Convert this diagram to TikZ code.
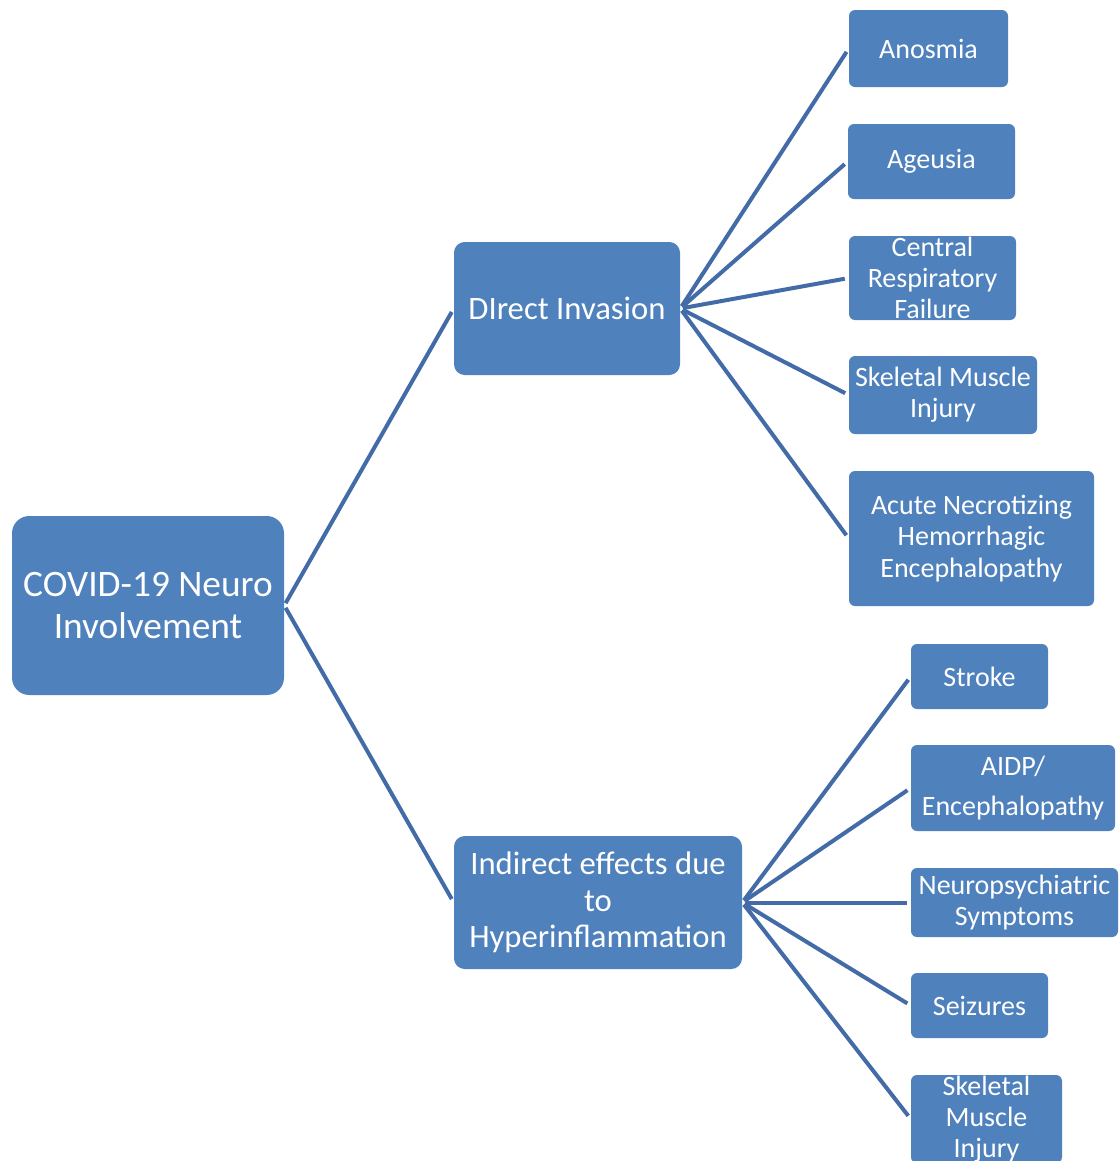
\documentclass[tikz,border=0pt]{standalone}
\usepackage{fontspec}
\setmainfont{Carlito}
\usepackage{xcolor}
\definecolor{boxblue}{RGB}{79,129,189}
\definecolor{linkblue}{RGB}{66,107,168}

\tikzset{
  box/.style = {fill=boxblue, text=white, align=center, inner sep=0pt},
  rootbox/.style = {box, rounded corners=13pt, font=\fontsize{28}{31.5}\selectfont},
  midbox/.style = {box, rounded corners=8pt, font=\fontsize{24.5}{27.5}\selectfont},
  leafbox/.style = {box, rounded corners=4.5pt, font=\fontsize{21}{23.3}\selectfont},
  link/.style = {draw=linkblue, line width=3pt, shorten <=2pt, shorten >=3pt}
}

\begin{document}
\begin{tikzpicture}[x=0.75pt, y=-0.75pt]
            \useasboundingbox (0,0) rectangle (1120,1161);
            \begin{scope}
            \clip (0,0) rectangle (1120,1161);
            % root and branches
            \node[rootbox, minimum width=204pt, minimum height=134.25pt] (covid) at (148,605.5) {COVID-19 Neuro\\Involvement};
            \node[midbox, minimum width=169.5pt, minimum height=99.75pt] (direct) at (567,308.5) {DIrect Invasion};
            \node[midbox, minimum width=216pt, minimum height=99.75pt] (indirect) at (598,902.5) {Indirect effects due\\to\\Hyperinflammation};
            % direct invasion
            \node[leafbox, minimum width=119.25pt, minimum height=57.75pt] (anosmia) at (928.5,48.5) {Anosmia};
            \node[leafbox, minimum width=125.25pt, minimum height=56.25pt] (ageusia) at (931.5,161.5) {Ageusia};
            \node[leafbox, minimum width=125.25pt, minimum height=63pt] (central) at (932.5,278) {Central\\Respiratory\\Failure};
            \node[leafbox, minimum width=141pt, minimum height=58.5pt] (skeletal) at (943,395) {Skeletal Muscle\\Injury};
            \node[leafbox, minimum width=183.75pt, minimum height=101.25pt] (anhe) at (971.5,538.5) {Acute Necrotizing\\Hemorrhagic\\Encephalopathy};
            % indirect effects
            \node[leafbox, minimum width=102.75pt, minimum height=48.75pt] (stroke) at (979.5,676.5) {Stroke};
            \node[leafbox, minimum width=153pt, minimum height=64.5pt] (aidp) at (1013,788) {AIDP/\\[7pt]Encephalopathy};
            \node[leafbox, minimum width=155.25pt, minimum height=51.75pt] (psych) at (1014.5,902.5) {Neuropsychiatric\\Symptoms};
            \node[leafbox, minimum width=102.75pt, minimum height=48.75pt] (seizures) at (979.5,1005.5) {Seizures};
            \node[leafbox, minimum width=113.25pt, minimum height=66pt] (skeletalb) at (986.5,1119) {Skeletal\\Muscle\\Injury};
            % connectors
            \foreach \child in {direct, indirect}
              \draw[link] (covid.east) -- (\child.west);
            \foreach \child in {anosmia, ageusia, central, skeletal, anhe}
              \draw[link] (direct.east) -- (\child.west);
            \foreach \child in {stroke, aidp, psych, seizures, skeletalb}
              \draw[link] (indirect.east) -- (\child.west);
            \end{scope}
        \end{tikzpicture}
\end{document}
